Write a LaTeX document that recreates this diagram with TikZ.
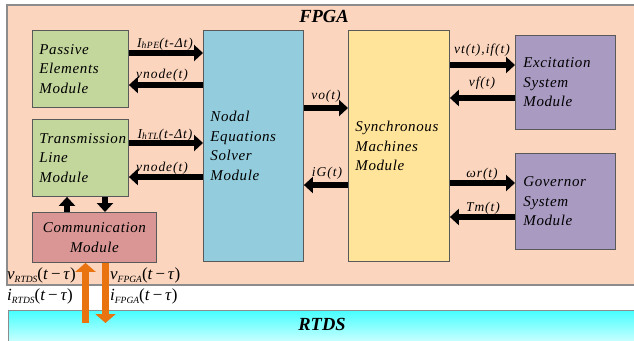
\documentclass[tikz,border=0pt]{standalone}
\usepackage{fontspec}
\setmainfont{Liberation Serif}
\newfontfamily\boxserif[LetterSpace=4]{Liberation Serif}
\newfontfamily\lblserif[LetterSpace=7]{Liberation Serif}
\usetikzlibrary{arrows.meta}

\definecolor{fpgabg}{HTML}{FCD5BE}
\definecolor{framegray}{HTML}{8C8C8C}
\definecolor{boxline}{HTML}{595959}
\definecolor{pegreen}{HTML}{C3D69B}
\definecolor{commred}{HTML}{D99694}
\definecolor{nodalblue}{HTML}{93CDDD}
\definecolor{syncyellow}{HTML}{FFE499}
\definecolor{ctrlpurple}{HTML}{A99AC2}
\definecolor{linkorange}{HTML}{E8730F}
\definecolor{rtdstop}{HTML}{45FFFF}
\definecolor{rtdsbot}{HTML}{E4FFFF}

\newcommand\boxfont{\boxserif\itshape\fontsize{15}{19.5}\selectfont}
\newcommand\lblfont{\lblserif\itshape\fontsize{13.5}{14}\selectfont}
\newcommand\sigfont{\fontsize{17}{17}\selectfont}
\newcommand\subsig[1]{\raisebox{-3.5pt}{\fontsize{9.5}{9.5}\selectfont\itshape #1}}
\newcommand\lowsub[1]{\raisebox{-1pt}{\fontsize{9.5}{9.5}\selectfont #1}}

\tikzset{
  mod/.style={draw=boxline, line width=0.9pt, inner xsep=7pt, inner ysep=0pt,
    align=left, font=\boxfont, anchor=north west},
  flow/.style={line width=6pt, -{Triangle[width=16pt,length=9pt]}},
  link/.style={draw=linkorange, line width=7pt,
    -{Triangle[width=20pt,length=9pt]}},
  lbl/.style={font=\lblfont, inner sep=0pt, anchor=base},
  sig/.style={font=\sigfont, inner sep=0pt, anchor=base west},
  region/.style={font=\fontsize{18.5}{18.5}\selectfont\bfseries\itshape,
    inner sep=0pt, anchor=base}
}

\begin{document}
\begin{tikzpicture}[x=1pt,y=-1pt]
\clip (0,0) rectangle (634,340);
\fill[white] (0,0) rectangle (634,340);

% FPGA area
\path[fill=fpgabg, draw=framegray, line width=1.2pt] (7,5) rectangle (650,285);
\node[region] (fpga) at (324,22) {FPGA};

% RTDS band
\path[top color=rtdstop, bottom color=rtdsbot, draw=framegray, line width=1pt]
  (8,310) rectangle (650,348);
\node[region] (rtds) at (322,330) {RTDS};

% modules
\node[mod, fill=pegreen, text width=82pt, minimum height=77pt] (pe) at (32,30)
  {Passive\\Elements\\Module};
\node[mod, fill=pegreen, text width=82pt, minimum height=77pt] (tl) at (32,119)
  {Transmission\\Line\\Module};
\node[mod, fill=commred, text width=110pt, minimum height=50pt, align=center] (comm) at (32,212)
  {Communication\\Module};
\node[mod, fill=nodalblue, text width=86pt, minimum height=231pt] (ns) at (203,30)
  {Nodal\\Equations\\Solver\\Module};
\node[mod, fill=syncyellow, text width=87pt, minimum height=231pt] (sm) at (348,30)
  {Synchronous\\Machines\\Module};
\node[mod, fill=ctrlpurple, inner xsep=8pt, text width=84pt, minimum height=94pt] (ex) at (515,35)
  {Excitation\\System\\Module};
\node[mod, fill=ctrlpurple, inner xsep=8pt, text width=84pt, minimum height=96pt] (gov) at (515,153)
  {Governor\\System\\Module};

% passive elements <-> nodal solver
\draw[flow] (pe.east |- 0,53) -- (ns.west |- 0,53);
\node[lbl] (l1) at (165,47) {I\lowsub{hPE}(t-Δt)};
\draw[flow] (ns.west |- 0,85) -- (pe.east |- 0,85);
\node[lbl] (l2) at (162,78) {vnode(t)};

% transmission line <-> nodal solver
\draw[flow] (tl.east |- 0,143) -- (ns.west |- 0,143);
\node[lbl] (l3) at (165,138) {I\lowsub{hTL}(t-Δt)};
\draw[flow] (ns.west |- 0,177) -- (tl.east |- 0,177);
\node[lbl] (l4) at (162,171) {vnode(t)};

% transmission line <-> communication
\draw[flow] (comm.north -| 67,0) -- (tl.south -| 67,0);
\draw[flow] (tl.south -| 105,0) -- (comm.north -| 105,0);

% nodal solver <-> synchronous machines
\draw[flow] (ns.east |- 0,108) -- (sm.west |- 0,108);
\node[lbl] (l5) at (326,99) {vo(t)};
\draw[flow] (sm.west |- 0,185) -- (ns.east |- 0,185);
\node[lbl] (l6) at (327,176) {iG(t)};

% synchronous machines <-> excitation
\draw[flow] (sm.east |- 0,65) -- (ex.west |- 0,65);
\node[lbl] (l7) at (482,53) {vt(t),if(t)};
\draw[flow] (ex.west |- 0,98) -- (sm.east |- 0,98);
\node[lbl] (l8) at (482,86) {vf(t)};

% synchronous machines <-> governor
\draw[flow] (sm.east |- 0,183) -- (gov.west |- 0,183);
\node[lbl] (l9) at (482,177) {ωr(t)};
\draw[flow] (gov.west |- 0,217) -- (sm.east |- 0,217);
\node[lbl] (l10) at (483,211) {Tm(t)};

% FPGA <-> RTDS link
\coordinate (upstart) at (85.5,323);
\coordinate (downend) at (105.5,323);
\draw[link] (upstart) -- (comm.south -| upstart);
\draw[link] (comm.south -| downend) -- (downend);

\node[sig] (vr) at (7,279) {\textit{v}\subsig{RTDS}(\textit{t}\,−\,\textit{τ})};
\node[sig] (ir) at (7,300) {\textit{i}\subsig{RTDS}(\textit{t}\,−\,\textit{τ})};
\node[sig] (vf) at (110,279) {\textit{v}\subsig{FPGA}(\textit{t}\,−\,\textit{τ})};
\node[sig] (if) at (110,300) {\textit{i}\subsig{FPGA}(\textit{t}\,−\,\textit{τ})};
\end{tikzpicture}
\end{document}
